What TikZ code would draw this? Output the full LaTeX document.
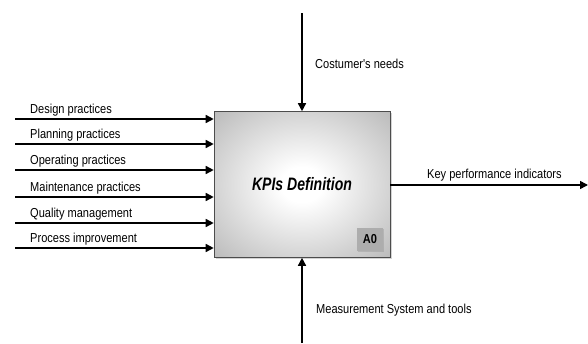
\documentclass[tikz,border=0pt]{standalone}
\usepackage{fontspec}
\setmainfont{Liberation Sans}
\newfontfamily\labelfont[FakeStretch=0.85]{Liberation Sans}
\newfontfamily\titlefont[FakeStretch=0.78]{Liberation Sans}
\usetikzlibrary{arrows.meta,shadows}
\pgfdeclareradialshading{boxglow}{\pgfpoint{0bp}{0bp}}{%
  color(0bp)=(white); color(6bp)=(white);
  color(50bp)=(black!40); color(71bp)=(black!52)}
\tikzset{
  flow/.style={line width=1.5pt,-{Triangle[length=8pt,width=8pt]}},
  lbl/.style={anchor=base west,inner sep=0pt,font=\labelfont\fontsize{13}{15}\selectfont},
  kpibox/.style={draw=black!70,line width=0.6pt,shading=boxglow,
    minimum width=176pt,minimum height=146pt,inner sep=0pt,
    drop shadow={shadow xshift=1.5pt,shadow yshift=-1.5pt,opacity=0.35},
    font=\titlefont\bfseries\itshape\fontsize{18}{20}\selectfont},
  tagbox/.style={fill=black!32,minimum width=26pt,minimum height=23pt,inner sep=0pt,
    drop shadow={shadow xshift=1pt,shadow yshift=-1pt,opacity=0.3},
    font=\labelfont\bfseries\fontsize{13}{15}\selectfont}
}
\begin{document}
\begin{tikzpicture}[x=1pt,y=-1pt]
\useasboundingbox (0,0) rectangle (588,343);
% activity box
\node[kpibox] (box) at (302,184.5) {KPIs Definition};
\node[tagbox] (tag) at (370,239) {A0};
% inputs from the left
\foreach \name/\yy/\txt in {d/119/Design practices,p/144/Planning practices,
    o/170/Operating practices,m/197/Maintenance practices,
    q/223/Quality management,i/248/Process improvement}{
  \coordinate (\name) at (15,\yy);
  \draw[flow] (\name) -- (\name -| box.west);
  \node[lbl] (\name-lbl) at (30,\yy-6) {\txt};
}
% control from the top
\coordinate (ctl) at (302,13);
\draw[flow] (ctl) -- (box.north);
\node[lbl] (ctl-lbl) at (315,68) {Costumer's needs};
% mechanism from the bottom
\coordinate (mech) at (302,343);
\draw[flow] (mech) -- (box.south);
\node[lbl] (mech-lbl) at (316,313) {Measurement System and tools};
% output to the right
\coordinate (out) at (588,185);
\draw[flow] (box.east |- out) -- (out);
\node[lbl] (out-lbl) at (427,178) {Key performance indicators};
\end{tikzpicture}
\end{document}
